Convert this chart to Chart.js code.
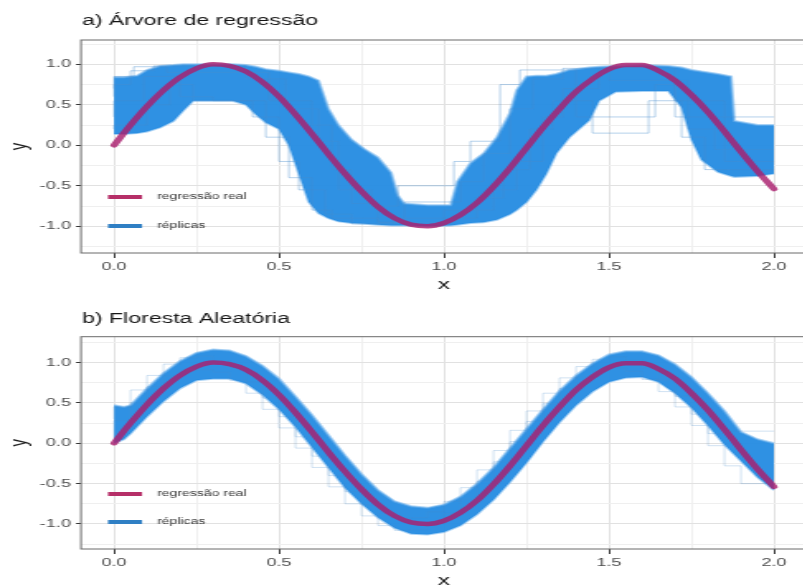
<!DOCTYPE html>
<html>
<head>
<meta charset="utf-8">
<script src="https://cdn.jsdelivr.net/npm/chart.js@4.4.1/dist/chart.umd.min.js"></script>
<style>
  html, body { margin: 0; padding: 0; background: #fff; overflow: hidden; width: 803px; height: 588px; }
  .panel { position: absolute; left: 0; transform-origin: 0 0; transform: scaleX(1.65); }
</style>
</head>
<body>
<canvas id="treeChart" class="panel" width="510" height="295" style="top:0px;width:510px;height:295px"></canvas>
<canvas id="forestChart" class="panel" width="510" height="297" style="top:295px;width:510px;height:297px"></canvas>
<script>
// ---- axis ticks ----
const xTicks = [0, 0.25, 0.5, 0.75, 1, 1.25, 1.5, 1.75, 2];
const xMajor = [0, 0.5, 1, 1.5, 2];
const yTicks = [-1.25, -1, -0.75, -0.5, -0.25, 0, 0.25, 0.5, 0.75, 1, 1.25];
const yMajor = [-1, -0.5, 0, 0.5, 1];

// ---- text ----
const panelTitles = ['a) Árvore de regressão', 'b) Floresta Aleatória'];
const legendLabels = ['regressão real', 'réplicas'];

// ---- true regression curve ----
const trueX = [0, 0.05, 0.1, 0.15, 0.2, 0.25, 0.3, 0.35, 0.4, 0.45, 0.5, 0.55, 0.6, 0.65, 0.7, 0.75, 0.8, 0.85, 0.9, 0.95,
               1, 1.05, 1.1, 1.15, 1.2, 1.25, 1.3, 1.35, 1.4, 1.45, 1.5, 1.55, 1.6, 1.65, 1.7, 1.75, 1.8, 1.85, 1.9, 1.95, 2];
const trueY = [0, 0.25, 0.48, 0.68, 0.84, 0.95, 1.0, 0.98, 0.91, 0.78, 0.6, 0.38, 0.14, -0.11, -0.35, -0.57, -0.76, -0.9, -0.98, -1.0,
               -0.96, -0.86, -0.71, -0.51, -0.28, -0.03, 0.22, 0.45, 0.66, 0.82, 0.94, 0.99, 0.99, 0.92, 0.8, 0.62, 0.41, 0.17, -0.08, -0.32, -0.54];

// ---- regression tree replicas: envelope of all fits ----
const treeBandX = [0, 0.03, 0.07, 0.10, 0.14, 0.18, 0.21, 0.24, 0.30, 0.36, 0.40, 0.43, 0.46, 0.50, 0.53, 0.56, 0.59, 0.62, 0.65, 0.68,
                   0.72, 0.76, 0.80, 0.84, 0.86, 0.88, 0.95, 1.02, 1.04, 1.08, 1.12, 1.16, 1.20, 1.22, 1.25, 1.28, 1.31, 1.34, 1.38, 1.44,
                   1.47, 1.52, 1.60, 1.68, 1.72, 1.75, 1.78, 1.83, 1.87, 1.88, 1.95, 2.00];
const treeUpper = [0.84, 0.84, 0.86, 0.93, 0.98, 0.99, 1.00, 1.00, 1.00, 1.00, 0.99, 0.97, 0.94, 0.92, 0.90, 0.88, 0.85, 0.80, 0.45, 0.25,
                   0.07, -0.05, -0.15, -0.34, -0.62, -0.72, -0.74, -0.74, -0.45, -0.22, -0.10, 0.10, 0.40, 0.68, 0.85, 0.86, 0.86, 0.88, 0.93, 0.96,
                   0.97, 0.98, 0.99, 0.98, 0.96, 0.93, 0.91, 0.88, 0.85, 0.30, 0.25, 0.25];
const treeLower = [0.14, 0.14, 0.15, 0.17, 0.22, 0.30, 0.43, 0.55, 0.55, 0.55, 0.50, 0.38, 0.28, 0.20, 0.00, -0.35, -0.70, -0.84, -0.90, -0.94,
                   -0.96, -0.97, -0.98, -0.99, -0.99, -0.99, -1.00, -0.99, -0.98, -0.96, -0.95, -0.92, -0.85, -0.80, -0.70, -0.55, -0.35, -0.10, 0.10, 0.31,
                   0.55, 0.66, 0.67, 0.67, 0.47, 0.07, -0.18, -0.33, -0.38, -0.39, -0.38, -0.35];
// a few individual tree fits (step start x, level)
const treeReplicas = [
  [[0, 0.70], [0.06, 0.85], [0.16, 0.97], [0.47, 0.90], [0.60, 0.55], [0.66, 0.25], [0.72, -0.30], [0.80, -0.72], [0.88, -0.95], [1.05, -0.70],
   [1.12, -0.45], [1.20, -0.10], [1.27, 0.45], [1.36, 0.82], [1.50, 0.95], [1.74, 0.80], [1.82, 0.20], [1.88, -0.05], [2.0, -0.05]],
  [[0, 0.35], [0.09, 0.55], [0.20, 0.85], [0.30, 0.60], [0.42, 0.55], [0.50, 0.35], [0.56, -0.20], [0.64, -0.55], [0.72, -0.85], [0.85, -0.97],
   [1.10, -0.90], [1.18, -0.65], [1.26, -0.30], [1.33, 0.20], [1.45, 0.55], [1.62, 0.15], [1.72, 0.55], [1.79, 0.10], [1.86, -0.30], [2.0, -0.30]],
  [[0, 0.60], [0.05, 0.75], [0.12, 0.92], [0.40, 0.98], [0.52, 0.82], [0.62, 0.45], [0.68, 0.05], [0.78, -0.55], [0.86, -0.75], [1.03, -0.50],
   [1.08, -0.20], [1.17, 0.05], [1.23, 0.75], [1.40, 0.93], [1.64, 0.35], [1.70, 0.75], [1.87, 0.35], [2.0, 0.35]],
  [[0, 0.20], [0.10, 0.25], [0.17, 0.50], [0.24, 0.75], [0.46, 0.55], [0.53, 0.10], [0.60, -0.40], [0.66, -0.80], [0.80, -0.90], [1.00, -0.95],
   [1.15, -0.80], [1.22, -0.55], [1.30, -0.20], [1.36, 0.35], [1.47, 0.70], [1.70, 0.95], [1.85, 0.55], [1.89, -0.20], [2.0, -0.20]]
];

// ---- random forest replicas: envelope of all fits ----
const forestBandX = [0, 0.03, 0.05, 0.10, 0.15, 0.20, 0.25, 0.30, 0.35, 0.40, 0.45, 0.50, 0.55, 0.60, 0.65, 0.70, 0.75, 0.80, 0.85, 0.90,
                     0.95, 1.00, 1.05, 1.10, 1.15, 1.20, 1.25, 1.30, 1.35, 1.40, 1.45, 1.50, 1.55, 1.60, 1.65, 1.70, 1.75, 1.80, 1.85, 1.90, 1.95, 2.00];
const forestUpper = [0.47, 0.45, 0.47, 0.68, 0.87, 1.02, 1.12, 1.16, 1.15, 1.08, 0.96, 0.80, 0.58, 0.35, 0.10, -0.15, -0.38, -0.58, -0.72, -0.78,
                     -0.80, -0.76, -0.66, -0.50, -0.30, -0.06, 0.18, 0.42, 0.65, 0.84, 0.99, 1.10, 1.14, 1.14, 1.09, 0.98, 0.82, 0.62, 0.40, 0.14, 0.05, 0.00];
const forestLower = [0.00, 0.05, 0.12, 0.33, 0.52, 0.68, 0.78, 0.80, 0.80, 0.74, 0.60, 0.42, 0.20, -0.05, -0.30, -0.55, -0.75, -0.92, -1.05, -1.12,
                     -1.13, -1.10, -1.02, -0.88, -0.70, -0.48, -0.24, 0.02, 0.26, 0.47, 0.64, 0.76, 0.81, 0.82, 0.76, 0.62, 0.44, 0.22, -0.02, -0.22, -0.42, -0.58];
// two individual forest fits, stepping every 0.05
const forestStepX = [0, 0.05, 0.1, 0.15, 0.2, 0.25, 0.3, 0.35, 0.4, 0.45, 0.5, 0.55, 0.6, 0.65, 0.7, 0.75, 0.8, 0.85, 0.9, 0.95,
                     1, 1.05, 1.1, 1.15, 1.2, 1.25, 1.3, 1.35, 1.4, 1.45, 1.5, 1.55, 1.6, 1.65, 1.7, 1.75, 1.8, 1.85, 1.9, 1.95, 2];
const forestFitA = [0.30, 0.45, 0.66, 0.84, 0.98, 1.06, 1.08, 1.02, 0.92, 0.76, 0.56, 0.33, 0.08, -0.16, -0.40, -0.60, -0.76, -0.88, -0.93, -0.92,
                    -0.85, -0.72, -0.55, -0.33, -0.09, 0.16, 0.40, 0.62, 0.81, 0.95, 1.04, 1.07, 1.03, 0.93, 0.78, 0.58, 0.36, 0.12, 0.15, 0.15, 0.15];
const forestFitB = [0.05, 0.28, 0.50, 0.70, 0.83, 0.90, 0.91, 0.88, 0.78, 0.62, 0.42, 0.19, -0.06, -0.30, -0.54, -0.75, -0.90, -1.02, -1.08, -1.07,
                    -1.00, -0.87, -0.69, -0.47, -0.23, 0.02, 0.27, 0.49, 0.68, 0.82, 0.90, 0.93, 0.89, 0.79, 0.64, 0.45, 0.22, -0.03, -0.28, -0.50, -0.50];

// ---- drawing ----
const SX = 1.65;                       // the figure is drawn horizontally stretched
const FONT = '"Liberation Sans", Arial, Helvetica, sans-serif';
const BAND = 'rgba(36, 139, 225, 0.95)';
const EDGE = 'rgba(110, 178, 236, 0.6)';
const TREE_REP = 'rgba(70, 140, 205, 0.4)';
const FOREST_REP = 'rgba(70, 140, 205, 0.25)';
const TRUE_LINE = 'rgba(170, 30, 110, 0.82)';
const KEY_COLORS = ['#b62f68', '#2f7fc4'];

const isMajor = (list, v) => list.some(m => Math.abs(m - v) < 1e-9);
const pts = (xs, ys) => xs.map((x, i) => ({ x: x, y: ys[i] }));
const pairs = r => r.map(([x, y]) => ({ x: x, y: y }));

const decor = {
  id: 'panelDecor',
  afterDraw(chart, args, opts) {
    const { ctx, chartArea: a } = chart;
    ctx.save();
    // legend inside the panel
    ctx.font = '8.5px ' + FONT;
    ctx.textBaseline = 'middle';
    ctx.textAlign = 'left';
    legendLabels.forEach((lab, i) => {
      const y = opts.legendY[i];
      ctx.strokeStyle = KEY_COLORS[i];
      ctx.lineWidth = 4;
      ctx.beginPath();
      ctx.moveTo(108 / SX, y);
      ctx.lineTo(142 / SX, y);
      ctx.stroke();
      ctx.fillStyle = '#333';
      ctx.fillText(lab, 157 / SX, y);
    });
    // panel border
    ctx.strokeStyle = '#6a6a6a';
    ctx.lineWidth = 1;
    ctx.strokeRect(a.left, a.top, a.right - a.left, a.bottom - a.top);
    // panel title
    ctx.fillStyle = '#151515';
    ctx.font = '14px ' + FONT;
    ctx.textBaseline = 'alphabetic';
    ctx.fillText(opts.title, 82 / SX, opts.titleBaseline);
    ctx.restore();
  }
};

function buildPanel(canvasId, p) {
  const canvas = document.getElementById(canvasId);
  const W = canvas.width, H = canvas.height;
  const datasets = [
    { data: pts(p.bandX, p.upper), fill: '+1', backgroundColor: BAND, borderColor: EDGE, borderWidth: 2, pointRadius: 0, order: 3 },
    { data: pts(p.bandX, p.lower), fill: false, borderColor: EDGE, borderWidth: 2, pointRadius: 0, order: 3 }
  ];
  p.replicas.forEach(r => datasets.push({
    data: r, stepped: 'after', fill: false,
    borderColor: p.repColor, borderWidth: 1, pointRadius: 0, order: 2
  }));
  datasets.push({
    data: pts(trueX, trueY), fill: false, borderColor: TRUE_LINE, borderWidth: 4.5,
    borderCapStyle: 'round', pointRadius: 0, cubicInterpolationMode: 'monotone', order: 1
  });

  const gridColor = (list) => (c) => isMajor(list, c.tick.value) ? '#e1e1e1' : '#efefef';
  const tickColor = (list) => (c) => isMajor(list, c.tick.value) ? '#333' : 'rgba(0,0,0,0)';

  return new Chart(canvas, {
    type: 'line',
    data: { datasets: datasets },
    options: {
      responsive: false,
      animation: false,
      devicePixelRatio: 1,
      layout: { padding: { top: p.areaTop, left: 0, right: W - 807 / SX, bottom: 0 } },
      plugins: {
        legend: { display: false },
        tooltip: { enabled: false },
        panelDecor: { title: p.title, titleBaseline: p.titleBaseline, legendY: p.legendY }
      },
      scales: {
        x: {
          type: 'linear', min: -0.1, max: 2.1,
          afterBuildTicks: s => { s.ticks = xTicks.map(v => ({ value: v })); },
          afterFit: s => { s.height = H - p.areaBottom; },
          grid: { color: gridColor(xMajor), tickColor: tickColor(xMajor), tickLength: 5, lineWidth: 1 },
          border: { display: false },
          ticks: {
            autoSkip: false, maxRotation: 0, padding: 2.4, color: '#4d4d4d',
            font: { family: FONT, size: 11 },
            callback: v => isMajor(xMajor, v) ? v.toFixed(1) : ''
          },
          title: { display: true, text: 'x', color: '#1a1a1a', font: { family: FONT, size: 15 },
                   padding: { top: 0, bottom: p.xTitlePad } }
        },
        y: {
          type: 'linear', min: p.yMin, max: p.yMax,
          afterBuildTicks: s => { s.ticks = yTicks.map(v => ({ value: v })); },
          afterFit: s => { s.width = 81 / SX; },
          grid: { color: gridColor(yMajor), tickColor: tickColor(yMajor), tickLength: 5 / SX, lineWidth: 1 },
          border: { display: false },
          ticks: {
            autoSkip: false, padding: 5 / SX, color: '#4d4d4d',
            font: { family: FONT, size: 11 },
            callback: v => isMajor(yMajor, v) ? v.toFixed(1) : ''
          },
          title: { display: true, text: 'y', color: '#1a1a1a', font: { family: FONT, size: 15 },
                   padding: { top: 2.5, bottom: 0 } }
        }
      }
    },
    plugins: [decor]
  });
}

buildPanel('treeChart', {
  title: panelTitles[0], titleBaseline: 25, legendY: [197, 226],
  areaTop: 40, areaBottom: 253, xTitlePad: 1.3, yMin: -1.33, yMax: 1.30,
  bandX: treeBandX, upper: treeUpper, lower: treeLower,
  replicas: treeReplicas.map(pairs), repColor: TREE_REP
});
buildPanel('forestChart', {
  title: panelTitles[1], titleBaseline: 28.3, legendY: [199, 227],
  areaTop: 41.7, areaBottom: 254, xTitlePad: 2.3, yMin: -1.31, yMax: 1.32,
  bandX: forestBandX, upper: forestUpper, lower: forestLower,
  replicas: [pts(forestStepX, forestFitA), pts(forestStepX, forestFitB)], repColor: FOREST_REP
});
</script>
</body>
</html>
